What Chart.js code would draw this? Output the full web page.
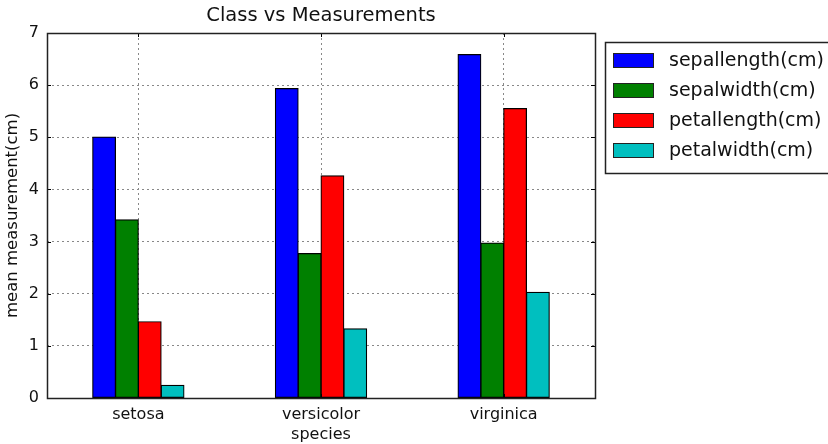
<!DOCTYPE html>
<html>
<head>
<meta charset="utf-8">
<script src="https://cdn.jsdelivr.net/npm/chart.js@4/dist/chart.umd.min.js"></script>
<style>
  html, body { margin: 0; padding: 0; background: #fff; }
  #wrap { width: 828px; height: 444px; position: relative; }
</style>
</head>
<body>
<div id="wrap"><canvas id="chart" width="828" height="444"></canvas></div>
<script>
// Iris means per class
const species = ['setosa', 'versicolor', 'virginica']
const sepalLength = [5.006, 5.936, 6.588]
const sepalWidth = [3.418, 2.770, 2.974]
const petalLength = [1.464, 4.260, 5.552]
const petalWidth = [0.244, 1.326, 2.026]
const seriesNames = ['sepallength(cm)', 'sepalwidth(cm)', 'petallength(cm)', 'petalwidth(cm)']
const seriesColors = ['#0000ff', '#008000', '#ff0000', '#00bfbf']
const yTicks = [0, 1, 2, 3, 4, 5, 6, 7]

const FONT = '"DejaVu Sans", sans-serif'

// frame, inward tick marks, title and boxed legend (matplotlib look)
const mplDecor = {
  id: 'mplDecor',
  afterDraw(chart) {
    const ctx = chart.ctx
    const a = chart.chartArea
    const xs = chart.scales.x
    const ys = chart.scales.y
    ctx.save()
    ctx.strokeStyle = '#000'
    ctx.lineWidth = 1
    ctx.beginPath()
    yTicks.forEach(v => {
      const y = Math.round(ys.getPixelForValue(v)) + 0.5
      ctx.moveTo(a.left, y); ctx.lineTo(a.left + 4, y)
      ctx.moveTo(a.right, y); ctx.lineTo(a.right - 4, y)
    })
    species.forEach((s, i) => {
      const x = Math.round(xs.getPixelForValue(i)) + 0.5
      ctx.moveTo(x, a.bottom); ctx.lineTo(x, a.bottom - 4)
      ctx.moveTo(x, a.top); ctx.lineTo(x, a.top + 4)
    })
    ctx.stroke()
    ctx.strokeStyle = '#222'
    ctx.lineWidth = 1.5
    ctx.strokeRect(Math.round(a.left) + 0.5, Math.round(a.top) + 0.5,
      Math.round(a.right - a.left), Math.round(a.bottom - a.top))

    // title
    ctx.fillStyle = '#111'
    ctx.font = '19.5px ' + FONT
    ctx.textAlign = 'center'
    ctx.textBaseline = 'middle'
    ctx.fillText('Class vs Measurements', (a.left + a.right) / 2, 16)

    // legend
    ctx.strokeStyle = '#222'
    ctx.lineWidth = 1.5
    ctx.strokeRect(605.5, 42.5, 240, 131)
    ctx.lineWidth = 1
    ctx.font = '19px ' + FONT
    ctx.textAlign = 'left'
    chart.data.datasets.forEach((ds, i) => {
      const y = 60 + i * 30
      ctx.fillStyle = ds.backgroundColor
      ctx.fillRect(613, y - 7, 40, 14)
      ctx.strokeRect(613.5, y - 6.5, 40, 14)
      ctx.fillStyle = '#111'
      ctx.fillText(ds.label, 669, y + 1)
    })
    ctx.restore()
  }
}

const seriesValues = [sepalLength, sepalWidth, petalLength, petalWidth]

new Chart(document.getElementById('chart'), {
  type: 'bar',
  data: {
    labels: species,
    datasets: seriesValues.map((vals, i) => ({
      label: seriesNames[i],
      data: vals,
      backgroundColor: seriesColors[i],
      borderColor: '#000',
      borderWidth: 1.2,
      borderSkipped: false,
      inflateAmount: 0.5,
      categoryPercentage: 0.5,
      barPercentage: 1
    }))
  },
  options: {
    responsive: false,
    animation: false,
    devicePixelRatio: 1,
    layout: { padding: { left: 0, right: 233, top: 33, bottom: 0 } },
    plugins: {
      legend: { display: false },
      title: { display: false },
      tooltip: { enabled: false }
    },
    scales: {
      x: {
        grid: { offset: false, color: '#888', lineWidth: 1, drawTicks: false },
        border: { display: false, dash: [2, 3] },
        ticks: { color: '#111', font: { family: FONT, size: 16 }, padding: 7, maxRotation: 0 },
        title: { display: true, text: 'species', color: '#111', font: { family: FONT, size: 16 }, padding: { top: 2, bottom: 0 } },
        afterFit: s => { s.height = 46 }
      },
      y: {
        min: 0,
        max: 7,
        afterBuildTicks: s => { s.ticks = yTicks.map(v => ({ value: v })) },
        grid: { color: '#888', lineWidth: 1, drawTicks: false },
        border: { display: false, dash: [2, 3] },
        ticks: { color: '#111', font: { family: FONT, size: 16 }, padding: 8 },
        title: { display: true, text: 'mean measurement(cm)', color: '#111', font: { family: FONT, size: 16.5 }, padding: { top: 3, bottom: 2 } },
        afterFit: s => { s.width = 47 }
      }
    }
  },
  plugins: [mplDecor]
})
</script>
</body>
</html>
